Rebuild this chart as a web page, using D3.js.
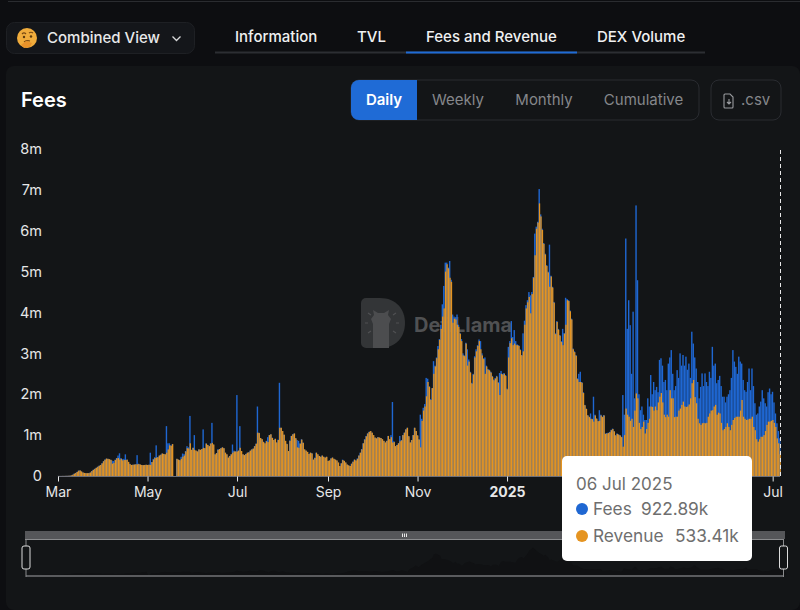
<!DOCTYPE html>
<html>
<head>
<meta charset="utf-8">
<script src="https://cdn.jsdelivr.net/npm/d3@7"></script>
<style>
  html, body { margin: 0; padding: 0; background: #0d0e11; overflow: hidden; }
  svg { display: block; font-family: Inter, "Noto Sans", sans-serif; }
</style>
</head>
<body>
<div id="chart"></div>
<script>
/*---------- DATA ----------*/
// Daily values in thousands of dollars (first day 1 Mar 2024)
const firstDay = "2024-03-01";
const feesK = [
  2,2,2,3,3,4,5,6,8,15,
  30,55,75,100,130,135,110,85,75,70,
  68,72,85,120,150,175,200,225,250,270,
  310,360,400,425,420,410,395,375,365,400,
  440,500,555,440,410,420,530,400,345,300,
  270,275,280,285,510,300,280,270,265,270,
  275,270,275,570,340,420,460,750,460,500,
  520,550,540,530,1220,800,800,750,780,0,
  0,420,400,390,470,550,540,610,730,700,
  1470,640,690,1000,620,600,650,640,660,1140,
  680,800,760,730,800,1300,770,530,560,650,
  660,680,700,680,570,530,450,490,530,770,
  620,600,1980,620,1220,610,530,510,540,570,
  580,620,650,670,730,790,1700,1060,930,900,
  840,800,860,950,1000,1020,940,880,910,820,
  890,2280,1180,1100,1010,860,790,610,870,980,
  1020,1040,930,880,860,800,900,820,650,620,
  590,540,570,560,400,450,570,530,490,470,
  500,470,450,470,370,380,430,450,420,400,
  380,330,245,310,400,370,330,280,260,245,
  300,350,400,380,430,500,570,660,800,900,
  980,1040,1080,1100,1060,1000,940,920,950,940,
  930,900,860,820,860,980,900,1000,1810,850,
  730,760,800,980,880,1000,1060,1140,1180,980,
  820,880,1000,1180,1100,1000,900,1500,1400,1670,
  1760,2400,2380,2200,1880,2150,2810,2700,2900,3180,
  3350,3700,4200,4650,5220,5220,5100,5260,4800,3950,
  3900,3880,3950,3700,3500,3350,3000,2950,3260,3100,
  2850,2550,2280,2500,2930,3100,3200,3340,3300,3000,
  2880,2900,2700,2620,2600,2550,2450,2360,2400,2450,
  2300,2520,2570,2500,2520,2470,2140,3160,3300,3790,
  3400,3570,3300,3220,3200,3100,2960,3490,3800,4180,
  4300,4500,4420,4500,4870,5930,6100,6220,7020,6400,
  6050,5700,5440,5160,5000,5660,4900,4630,4260,3490,
  3790,3600,3450,3300,3600,3500,4360,4330,4300,4050,
  3850,3120,3050,2960,2390,2500,2550,2300,2050,1740,
  1650,1490,1450,1530,1400,1940,1500,1410,1350,1610,
  1500,1450,1490,1040,1050,1060,1080,1130,1160,1100,
  1000,1040,1020,1000,960,1980,1500,5810,3600,4300,
  3690,2500,4020,1900,6620,4790,2000,1610,1700,1500,
  1370,1370,1900,1700,2470,2000,2300,2100,2180,2050,
  2840,2880,2700,2300,2350,2100,2750,2900,3080,2500,
  2100,2200,2590,2400,3000,2700,2960,2700,2920,2600,
  2750,2400,3530,3240,2900,2630,2300,1900,2180,2510,
  2200,2510,2300,2200,2550,2400,3160,2700,2750,2270,
  2350,2450,2200,1940,1940,1800,1940,2000,2100,2400,
  3080,2800,2670,2500,2920,2800,2750,2350,2100,2060,
  2300,2630,2100,2630,2200,1780,1500,1530,1700,1820,
  2100,1900,1780,1700,2050,2140,2000,2060,1800,1530,
  1290,1100,922.89
];
const revenueK = [
  2,2,2,3,3,4,5,6,8,15,
  30,55,75,100,130,135,110,85,75,70,
  68,72,85,120,150,175,200,225,250,270,
  310,360,400,425,420,410,395,300,320,390,
  430,440,400,420,380,390,390,400,345,290,
  270,275,280,285,285,290,280,270,265,270,
  275,270,275,270,340,400,440,450,460,500,
  520,550,540,530,570,650,750,740,780,0,
  0,420,400,385,420,470,500,600,680,670,
  800,640,690,640,620,600,650,640,660,690,
  680,790,760,730,790,810,770,530,560,640,
  660,680,700,680,570,530,450,490,530,570,
  600,600,600,620,690,610,530,510,540,570,
  580,620,650,670,730,790,1060,1050,930,900,
  830,800,850,830,1000,1020,930,880,910,820,
  880,1180,1180,1100,1010,860,780,610,860,980,
  1020,1040,920,700,690,790,890,810,650,620,
  590,540,570,550,400,440,570,530,490,470,
  500,470,450,470,370,380,430,450,420,400,
  380,330,245,310,390,370,330,280,260,245,
  300,350,400,380,420,500,570,650,800,890,
  970,1040,1080,1100,1060,1000,940,920,950,940,
  930,900,860,820,860,980,900,950,820,830,
  730,760,800,850,870,1000,1060,1140,1180,970,
  820,880,1000,1180,1100,990,890,700,1350,1600,
  1700,1950,2300,2180,1860,2150,2500,2680,2880,3100,
  3330,3600,3900,4100,5000,5180,5080,4850,4750,3750,
  3850,3830,3700,3650,3480,3300,2950,2930,3240,2700,
  2800,2530,2260,2480,2900,3050,3180,3300,3100,2950,
  2860,2500,2680,2600,2580,2530,2430,2340,2380,2430,
  2280,1980,2500,2480,2500,2450,2120,2900,3250,3370,
  3200,3240,3200,3200,3180,3080,2950,3050,3700,4100,
  4250,4380,3980,4450,4850,5400,6050,6200,6670,6350,
  6020,5680,5420,5140,4980,4630,4880,4610,4240,3470,
  3770,3580,3430,3280,3200,3480,3700,4300,4280,4030,
  3830,3100,3030,2940,2370,2300,2300,2280,2030,1730,
  1640,1480,1440,1400,1390,1330,1480,1400,1340,1350,
  1480,1440,1480,1030,1040,1050,1070,1120,1150,1090,
  990,1030,1010,990,950,717,1000,1650,1500,1450,
  1350,1400,1200,1600,2020,1900,1300,1150,1200,1330,
  1040,1150,1300,1400,1700,1690,1600,1700,1610,1800,
  1940,2030,1800,1500,1440,1500,1450,2100,1900,1900,
  1440,1450,1450,1600,1650,1740,1820,1700,1690,1700,
  1750,1900,2270,2350,1930,1780,1400,1290,1250,1290,
  1300,1290,1300,1450,1530,1600,1610,1700,1740,1500,
  1550,1530,1300,1120,1150,1200,1290,1200,1120,1250,
  1370,1420,1450,1450,1450,1600,1860,1450,1400,1370,
  1380,1400,1400,1450,1200,1120,900,840,900,960,
  960,1000,1100,1250,1330,1330,1350,1370,1300,1200,
  920,800,533.41
];

const yTicks = [0, 1000, 2000, 3000, 4000, 5000, 6000, 7000, 8000];
const yTickLabels = ["0", "1m", "2m", "3m", "4m", "5m", "6m", "7m", "8m"];
// Mar and May 2025 sit under the tooltip in the reference, so they are left out
const xTicks = ["2024-03-01", "2024-05-01", "2024-07-01", "2024-09-01", "2024-11-01",
  "2025-01-01", "2025-07-01"];
const xTickLabels = ["Mar", "May", "Jul", "Sep", "Nov", "2025", "Jul"];
const tabs = ["Information", "TVL", "Fees and Revenue", "DEX Volume"];
const periods = ["Daily", "Weekly", "Monthly", "Cumulative"];

const feesColor = "#1f67d2";
const revenueColor = "#e59421";
const accentColor = "#1f6bd6";
const width = 800;
const height = 610;

/*---------- SETUP ----------*/
const parseDay = d3.utcParse("%Y-%m-%d");
const days = feesK.map((_, i) => d3.utcDay.offset(parseDay(firstDay), i));

let svg = d3
  .select("#chart")
  .append("svg")
  .attr("width", width)
  .attr("height", height)
  .attr("viewBox", `0 0 ${width} ${height}`);

// Page furniture behind the chart
svg.append("rect").attr("x", 6).attr("y", 66).attr("width", 794).attr("height", 544)
  .attr("rx", 8).attr("fill", "#131517");
svg.append("line").attr("x1", 8).attr("x2", 800).attr("y1", 1.5).attr("y2", 1.5)
  .attr("stroke", "#2a2c30");

/*---------- HEADER ----------*/
// View selector, the thinking face is drawn by hand as no emoji font is installed
svg.append("rect").attr("x", 6.5).attr("y", 22.5).attr("width", 188).attr("height", 31)
  .attr("rx", 8).attr("fill", "#14161a").attr("stroke", "#1e2024");
svg.append("circle").attr("cx", 27).attr("cy", 38).attr("r", 10).attr("fill", "#f0ac3c");
svg.append("path").attr("d", "M22 34q2-2 4 0M29 33q2-1.5 4 0M24 42q3-2 6-1")
  .attr("fill", "none").attr("stroke", "#7a4a12").attr("stroke-width", 1.2);
svg.append("circle").attr("cx", 24).attr("cy", 37).attr("r", 1.2).attr("fill", "#5b3a10");
svg.append("circle").attr("cx", 31).attr("cy", 36.5).attr("r", 1.2).attr("fill", "#5b3a10");
svg.append("path").attr("d", "M21 45l5-4 6 2-2 4-6 1z").attr("fill", "#e8922a");
svg.append("text").attr("x", 47).attr("y", 43).attr("fill", "#e8e9ea")
  .attr("font-size", 15).attr("font-weight", 500).text("Combined View");
svg.append("path").attr("d", "M172.5 36.5l4 4 4-4").attr("fill", "none")
  .attr("stroke", "#d8d9da").attr("stroke-width", 1.3);

// Tabs
const tabX = [235, 357, 426, 597];
svg.append("line").attr("x1", 215).attr("x2", 705).attr("y1", 52.5).attr("y2", 52.5)
  .attr("stroke", "#2c2e33").attr("stroke-width", 2);
svg.append("line").attr("x1", 406).attr("x2", 577).attr("y1", 52.5).attr("y2", 52.5)
  .attr("stroke", accentColor).attr("stroke-width", 2);
svg.selectAll("text.tab")
  .data(tabs)
  .join("text")
  .attr("class", "tab")
  .attr("x", (_, i) => tabX[i])
  .attr("y", 42)
  .attr("fill", "#f0f1f2")
  .attr("font-size", 15)
  .attr("font-weight", 500)
  .text((d) => d);

svg.append("text").attr("x", 21).attr("y", 107).attr("fill", "#ffffff")
  .attr("font-size", 20).attr("font-weight", 600).text("Fees");

// Period buttons
const periodX = [384, 458, 544, 643.5];
svg.append("rect").attr("x", 351).attr("y", 80).attr("width", 348).attr("height", 40)
  .attr("rx", 8).attr("fill", "none").attr("stroke", "#2a2c31");
svg.append("path").attr("d", "M417 80H359a8 8 0 0 0-8 8v24a8 8 0 0 0 8 8H417z")
  .attr("fill", accentColor);
svg.selectAll("text.period")
  .data(periods)
  .join("text")
  .attr("class", "period")
  .attr("x", (_, i) => periodX[i])
  .attr("y", 105)
  .attr("text-anchor", "middle")
  .attr("font-size", 15)
  .attr("font-weight", (_, i) => (i === 0 ? 600 : 400))
  .attr("fill", (_, i) => (i === 0 ? "#ffffff" : "#85878b"))
  .text((d) => d);

// Csv button
svg.append("rect").attr("x", 711).attr("y", 80).attr("width", 70).attr("height", 40)
  .attr("rx", 8).attr("fill", "none").attr("stroke", "#2a2c31");
svg.append("path").attr("d", "M725 94h5l3 3v10a1 1 0 0 1-1 1h-7a1 1 0 0 1-1-1V95a1 1 0 0 1 1-1zM729 99v5M727 102l2 2 2-2")
  .attr("fill", "none").attr("stroke", "#9a9c9f").attr("stroke-width", 1.1);
svg.append("text").attr("x", 741).attr("y", 105).attr("fill", "#85878b")
  .attr("font-size", 15).text(".csv");

/*---------- PLOTTING ----------*/
const x = d3.scaleUtc()
  .domain([parseDay(firstDay), days[days.length - 1]])
  .range([58, 780]);
const y = d3.scaleLinear().domain([0, 8000]).range([476, 149]);

// Watermark sits behind the bars
const mark = svg.append("g");
mark.append("path").attr("d", "M361 303a5 5 0 0 1 5-5h14c16 0 25 11 25 25s-9 25-25 25h-14a5 5 0 0 1-5-5z")
  .attr("fill", "#333537");
mark.append("path").attr("d", "M373 348v-24l-2-5 3-4-1-5 5 3h6l5-3-1 5 3 4-2 5v24z")
  .attr("fill", "#4c4d4f");
mark.append("path").attr("d", "M368 313l3 2M365 323h3M368 333l3-2M396 313l-3 2M399 323h-3M396 333l-3-2")
  .attr("fill", "none").attr("stroke", "#505153").attr("stroke-width", 1.2);
mark.append("text").attr("x", 414).attr("y", 332).attr("fill", "#505153")
  .attr("font-size", 20).attr("font-weight", 700).text("DefiLlama");

// Fees sit under revenue, shifted a hair so their left edge shows
svg.append("g")
  .selectAll("rect")
  .data(feesK)
  .join("rect")
  .attr("x", (_, i) => x(days[i]) - 0.85)
  .attr("y", (d) => y(d))
  .attr("width", 1.4)
  .attr("height", (d) => y(0) - y(d))
  .attr("fill", feesColor);

svg.append("g")
  .selectAll("rect")
  .data(revenueK)
  .join("rect")
  .attr("x", (_, i) => x(days[i]) - 0.45)
  .attr("y", (d) => y(d))
  .attr("width", 1.3)
  .attr("height", (d) => y(0) - y(d))
  .attr("fill", revenueColor);

// Axes
const yAxis = d3.axisLeft(y)
  .tickValues(yTicks)
  .tickSize(0)
  .tickPadding(0)
  .tickFormat((_, i) => yTickLabels[i]);
const yG = svg.append("g").attr("transform", "translate(42,0)").call(yAxis);
yG.select(".domain").remove();
yG.selectAll("text").attr("fill", "#e6e7e8").attr("font-size", 14.5)
  .attr("font-family", "Inter, sans-serif");

const xAxis = d3.axisBottom(x)
  .tickValues(xTicks.map(parseDay))
  .tickSize(5)
  .tickPadding(6)
  .tickFormat((_, i) => xTickLabels[i]);
const xG = svg.append("g").attr("transform", "translate(0,476.5)").call(xAxis);
xG.select(".domain").attr("stroke", "#6e7079").attr("d", "M58,0H780");
xG.selectAll("line").attr("stroke", "#e6e7e8");
xG.selectAll("text").attr("fill", "#e6e7e8").attr("font-size", 14)
  .attr("font-family", "Inter, sans-serif")
  .attr("font-weight", (_, i) => (xTickLabels[i] === "2025" ? 700 : 400));

// Hover line on the last day
svg.append("line")
  .attr("x1", x(days[days.length - 1]) + 0.5)
  .attr("x2", x(days[days.length - 1]) + 0.5)
  .attr("y1", 150)
  .attr("y2", 476)
  .attr("stroke", "#e8e8e8")
  .attr("stroke-dasharray", "4 3");

/*---------- SLIDER ----------*/
const yMini = d3.scaleLinear().domain([0, 8000]).range([575, 542]);
const miniArea = d3.area()
  .x((_, i) => x(days[i]) * 1.0527 - 35)
  .y0(575)
  .y1((d) => yMini(d));

svg.append("path").datum(revenueK).attr("d", miniArea).attr("fill", "#101113");
svg.append("rect").attr("x", 25).attr("y", 531).attr("width", 760).attr("height", 8)
  .attr("fill", "#555659");
svg.append("line").attr("x1", 25).attr("x2", 784).attr("y1", 539.5).attr("y2", 539.5)
  .attr("stroke", "#8a8b8d");
svg.append("line").attr("x1", 26).attr("x2", 784).attr("y1", 576).attr("y2", 576)
  .attr("stroke", "#5a5b5e").attr("stroke-width", 2);
[403, 405, 407].forEach((gx) => {
  svg.append("line").attr("x1", gx - 0.5).attr("x2", gx - 0.5).attr("y1", 533.5).attr("y2", 537)
    .attr("stroke", "#e6e6e6");
});
[26, 783.5].forEach((hx) => {
  svg.append("line").attr("x1", hx).attr("x2", hx).attr("y1", 540).attr("y2", 577)
    .attr("stroke", "#8a8b8d");
  svg.append("rect").attr("x", hx - 4).attr("y", 546).attr("width", 8).attr("height", 23)
    .attr("rx", 2).attr("fill", "#131517").attr("stroke", "#dcdcdc");
});

/*---------- TOOLTIP ----------*/
const tip = svg.append("g");
tip.append("rect").attr("x", 562).attr("y", 456).attr("width", 190).attr("height", 105)
  .attr("rx", 5).attr("fill", "#ffffff");
tip.append("text").attr("x", 576).attr("y", 490).attr("fill", "#6e6e6e")
  .attr("font-size", 17).text("06 Jul 2025");
[
  { name: "Fees", value: d3.format(".2f")(feesK[feesK.length - 1]) + "k", color: feesColor, cy: 509, vx: 641 },
  { name: "Revenue", value: d3.format(".2f")(revenueK[revenueK.length - 1]) + "k", color: revenueColor, cy: 536, vx: 675 },
].forEach((row) => {
  tip.append("circle").attr("cx", 582).attr("cy", row.cy).attr("r", 6).attr("fill", row.color);
  tip.append("text").attr("x", 593).attr("y", row.cy + 6).attr("fill", "#6e6e6e")
    .attr("font-size", 17.3).text(row.name);
  tip.append("text").attr("x", row.vx).attr("y", row.cy + 6).attr("fill", "#6e6e6e")
    .attr("font-size", 17.3).text(row.value);
});
</script>
</body>
</html>
